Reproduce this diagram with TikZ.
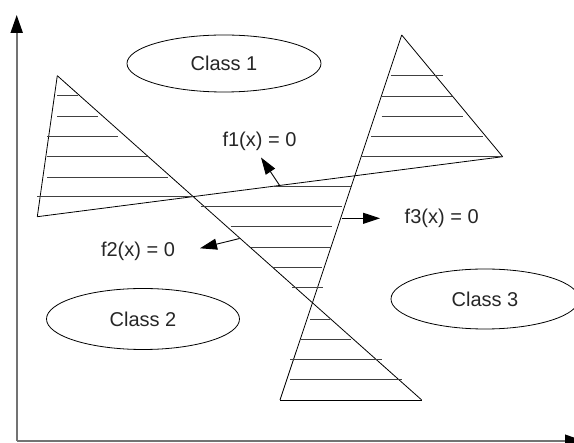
\documentclass[tikz,border=0pt]{standalone}
\usepackage{fontspec}
\setmainfont{Liberation Sans}
\usetikzlibrary{arrows.meta, shapes.geometric}

\begin{document}
\begin{tikzpicture}[
    x=1pt, y=-1pt,
    >={Triangle[length=17pt, width=11pt]},
    font=\fontsize{20}{24}\selectfont,
    region/.style={ellipse, draw, line width=0.8pt, inner sep=0pt, text=black!85},
    fnlabel/.style={text=black!85, inner sep=0pt},
    boundary/.style={black, line width=0.8pt},
    hatch/.style={black!75, line width=0.9pt},
    normal/.style={->, black, line width=0.9pt},
    axis/.style={-{Triangle[length=18pt, width=12pt, color=black]}, draw=black!55, line width=2pt}
]

\useasboundingbox (0,0) rectangle (574,443);

% -------- Axes --------
\coordinate (origin) at (16.7,440.7);
\coordinate (ytip) at (16.7,15);
\coordinate (xtip) at (583,440.7);
\draw[axis] (origin) -- (ytip);
\draw[axis] (origin) -- (xtip);

% -------- Classes --------
\node[region, minimum width=194pt, minimum height=57pt] (class1) at (224,63.5) {Class 1};
\node[region, minimum width=193pt, minimum height=61pt] (class2) at (143,319) {Class 2};
\node[region, minimum width=188pt, minimum height=60pt] (class3) at (485,299) {Class 3};

% -------- Decision lines --------
\coordinate (a1) at (57.3,75.7);
\coordinate (a2) at (421.7,400);
\coordinate (b1) at (37.3,216.7);
\coordinate (b2) at (502.7,156.7);
\coordinate (c1) at (401.7,35);
\coordinate (c2) at (280,400);

\draw[boundary] (a1) -- (a2);
\draw[boundary] (b1) -- (b2);
\draw[boundary] (c1) -- (c2);
\draw[boundary] (a1) -- (b1);
\draw[boundary] (c1) -- (b2);
\draw[boundary] (c2) -- (a2);

% -------- Hatching --------
\foreach \y/\xa/\xb in {95.7/57/78, 116.7/57/98, 136.7/47/118, 156.7/47/148,
                         177.3/47/168, 196.7/37/193} {
    \draw[hatch] (\xa,\y) -- (\xb,\y);
}
\foreach \y/\xa/\xb in {186/274/352, 206.7/200.7/342.3, 226.7/230.7/331.7,
                         247.3/250.7/330.7, 267/272/322, 287/292/322.7} {
    \draw[hatch] (\xa,\y) -- (\xb,\y);
}
\foreach \y/\xa/\xb in {319.3/310/330, 339.3/300/350.7, 359.3/290/381.7,
                         379.3/290/401.7} {
    \draw[hatch] (\xa,\y) -- (\xb,\y);
}
\foreach \y/\xa/\xb in {75.7/390.7/442.7, 96.7/381.7/451.7, 116.7/381.7/462.7,
                         136.7/371/482.7, 156.7/361.7/502} {
    \draw[hatch] (\xa,\y) -- (\xb,\y);
}

% -------- Normals + labels --------
\node[fnlabel] (f1) at (259.5,141) {f1(x) = 0};
\node[fnlabel] (f2) at (138,251.7) {f2(x) = 0};
\node[fnlabel] (f3) at (441.7,218.3) {f3(x) = 0};

\coordinate (n1a) at (280,186);
\coordinate (n1b) at (261,157.5);
\coordinate (n2a) at (239.5,238.5);
\coordinate (n2b) at (200,248.3);
\coordinate (n3a) at (341.7,218.3);
\coordinate (n3b) at (380,218.3);

\draw[normal] (n1a) -- (n1b);
\draw[normal] (n2a) -- (n2b);
\draw[normal] (n3a) -- (n3b);

\end{tikzpicture}
\end{document}
